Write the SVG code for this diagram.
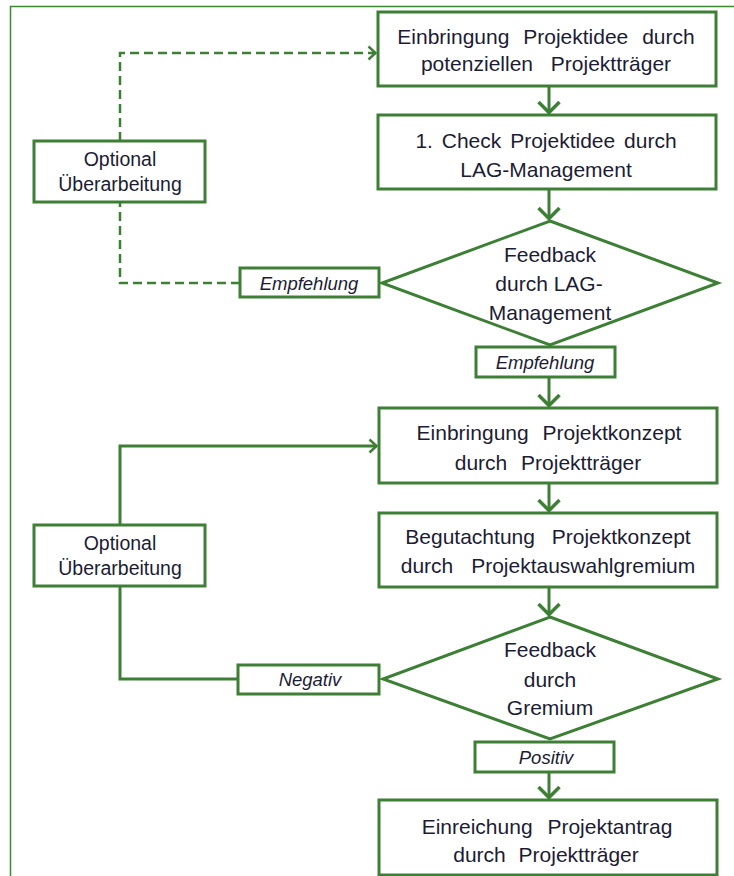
<svg xmlns="http://www.w3.org/2000/svg" width="734" height="876" viewBox="0 0 734 876">
<defs>
<style>
.n{fill:#fff;stroke:#3c7f35;stroke-width:3}
.t{font-family:"Liberation Sans",Arial,sans-serif;font-size:21px;fill:#1c1c34;text-anchor:middle}
.o{font-size:19.5px}
.i{font-style:italic;font-size:18.5px}
.c{fill:none;stroke:#3c7f35;stroke-width:3}
.d{stroke-dasharray:9 5;stroke-width:2.5}
</style>
<marker id="ab" markerUnits="userSpaceOnUse" viewBox="0 0 14 24" refX="12.5" refY="12" markerWidth="14" markerHeight="24" orient="auto">
<path d="M1.5,1.5 L12,12 L1.5,22.5" fill="none" stroke="#3c7f35" stroke-width="3.5"/>
</marker>
<marker id="as" markerUnits="userSpaceOnUse" viewBox="0 0 10 16" refX="9" refY="8" markerWidth="10" markerHeight="16" orient="auto">
<path d="M1.5,1.5 L8.5,8 L1.5,14.5" fill="none" stroke="#3c7f35" stroke-width="2.5"/>
</marker>
</defs>
<rect width="734" height="876" fill="#fff"/>
<path d="M10.5,876 V6.5 H734" fill="none" stroke="#3b8a2f" stroke-width="1.5"/>
<g id="connectors">
<path class="c" d="M549,86 V113" marker-end="url(#ab)"/>
<path class="c" d="M549,189 V219" marker-end="url(#ab)"/>
<path class="c" d="M549,377 V406" marker-end="url(#ab)"/>
<path class="c" d="M549,483 V511" marker-end="url(#ab)"/>
<path class="c" d="M549,587 V615" marker-end="url(#ab)"/>
<path class="c" d="M549,772 V798" marker-end="url(#ab)"/>
<path class="c d" d="M240,283 H120 V202"/>
<path class="c d" d="M120,141 V53 H376" marker-end="url(#as)"/>
<path class="c" d="M120,525 V446 H377" marker-end="url(#as)"/>
<path class="c" d="M238,679 H120 V586"/>
</g>
<g id="n1"><rect class="n" x="378" y="12" width="338" height="74"/>
<text class="t" x="546" y="44" word-spacing="8">Einbringung Projektidee durch</text>
<text class="t" x="546" y="71" word-spacing="12">potenziellen Projektträger</text></g>
<g id="n2"><rect class="n" x="378" y="115" width="338" height="74"/>
<text class="t" x="546" y="148" word-spacing="3">1. Check Projektidee durch</text>
<text class="t" x="546" y="177">LAG-Management</text></g>
<g id="n3"><polygon class="n" points="550,221 718,283 550,345 382,283"/>
<text class="t" x="550" y="262">Feedback</text>
<text class="t" x="549" y="291">durch LAG-</text>
<text class="t" x="550" y="320">Management</text></g>
<g id="n4"><rect class="n" x="476" y="347" width="139" height="30"/>
<text class="t i" x="545" y="369">Empfehlung</text></g>
<g id="n5"><rect class="n" x="34" y="141" width="171" height="61"/>
<text class="t o" x="120" y="166">Optional</text>
<text class="t o" x="120" y="191">Überarbeitung</text></g>
<g id="n6"><rect class="n" x="240" y="268" width="139" height="29"/>
<text class="t i" x="309" y="290">Empfehlung</text></g>
<g id="n7"><rect class="n" x="379" y="408" width="338" height="75"/>
<text class="t" x="549" y="440" word-spacing="8">Einbringung Projektkonzept</text>
<text class="t" x="548" y="470" word-spacing="8">durch Projektträger</text></g>
<g id="n8"><rect class="n" x="379" y="513" width="338" height="74"/>
<text class="t" x="548" y="544" word-spacing="11">Begutachtung Projektkonzept</text>
<text class="t" x="548" y="573" word-spacing="12">durch Projektauswahlgremium</text></g>
<g id="n9"><polygon class="n" points="550,617 718,679 550,739 383,679"/>
<text class="t" x="550" y="657">Feedback</text>
<text class="t" x="550" y="687">durch</text>
<text class="t" x="550" y="715">Gremium</text></g>
<g id="n10"><rect class="n" x="475" y="742" width="139" height="30"/>
<text class="t i" x="546" y="764">Positiv</text></g>
<g id="n11"><rect class="n" x="34" y="525" width="171" height="61"/>
<text class="t o" x="120" y="550">Optional</text>
<text class="t o" x="120" y="575">Überarbeitung</text></g>
<g id="n12"><rect class="n" x="238" y="665" width="141" height="29"/>
<text class="t i" x="310" y="686">Negativ</text></g>
<g id="n13"><rect class="n" x="379" y="800" width="338" height="75"/>
<text class="t" x="547" y="834" word-spacing="9">Einreichung Projektantrag</text>
<text class="t" x="546" y="862" word-spacing="7">durch Projektträger</text></g>
</svg>
